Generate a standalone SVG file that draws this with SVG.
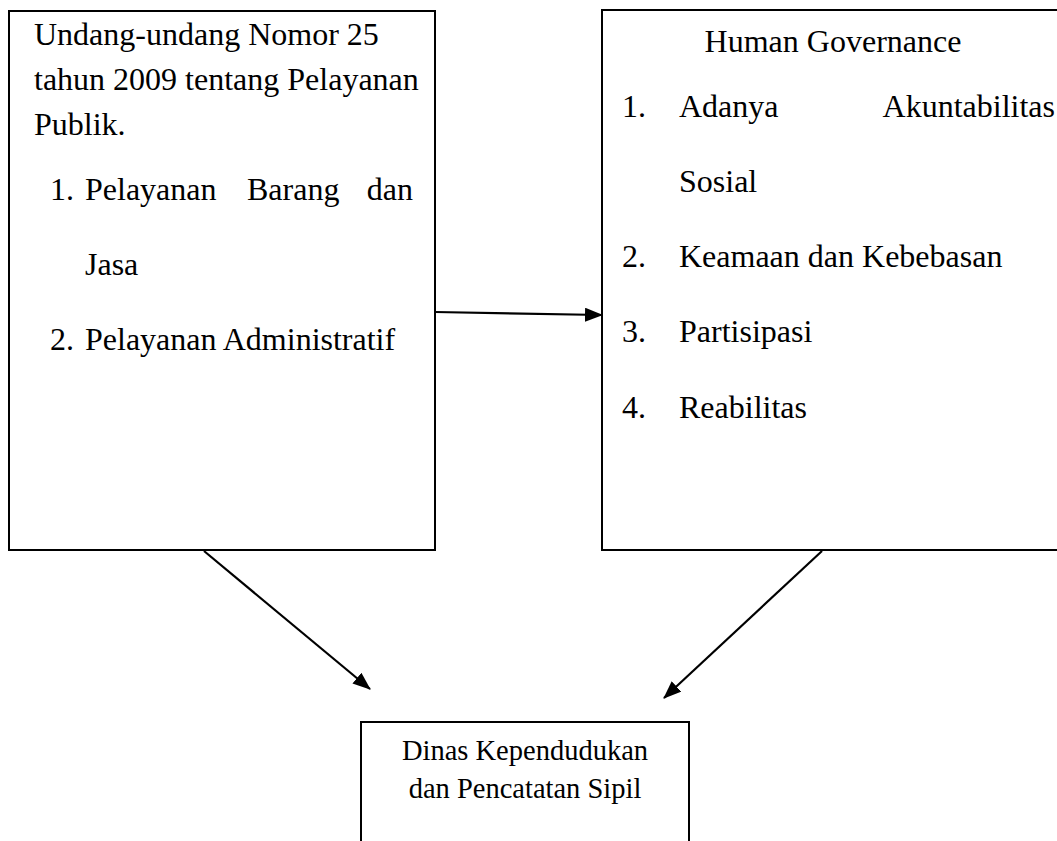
<svg xmlns="http://www.w3.org/2000/svg" width="1057" height="841" viewBox="0 0 1057 841">
<defs>
<style>
.box{fill:#fff;stroke:#000;stroke-width:2}
.t{font-family:"Liberation Serif","Times New Roman",serif;font-size:32px;fill:#000}
.s{font-family:"Liberation Serif","Times New Roman",serif;font-size:28.5px;fill:#000}
.c{stroke:#000;stroke-width:2.2;fill:none;marker-end:url(#ah)}
</style>
<marker id="ah" viewBox="0 0 18 14" refX="17" refY="7" markerWidth="18" markerHeight="14" markerUnits="userSpaceOnUse" orient="auto">
<path d="M0,0 L18,7 L0,14 Z" fill="#000"/>
</marker>
</defs>
<rect width="1057" height="841" fill="#fff"/>
<g id="node-uu">
<rect class="box" x="9" y="11" width="426" height="539"/>
<text class="t" x="34" y="45">Undang-undang Nomor 25</text>
<text class="t" x="34" y="90">tahun 2009 tentang Pelayanan</text>
<text class="t" x="34" y="135">Publik.</text>
<text class="t" x="50" y="200">1.</text>
<text class="t" x="85" y="200">Pelayanan</text>
<text class="t" x="247" y="200">Barang</text>
<text class="t" x="413" y="200" text-anchor="end">dan</text>
<text class="t" x="85" y="275">Jasa</text>
<text class="t" x="50" y="350">2.</text>
<text class="t" x="85" y="350">Pelayanan Administratif</text>
</g>
<g id="node-hg">
<rect class="box" x="602" y="10" width="470" height="540"/>
<text class="t" x="833" y="52" text-anchor="middle">Human Governance</text>
<text class="t" x="622" y="117">1.</text>
<text class="t" x="679" y="117">Adanya</text>
<text class="t" x="1055" y="117" text-anchor="end">Akuntabilitas</text>
<text class="t" x="679" y="192">Sosial</text>
<text class="t" x="622" y="267">2.</text>
<text class="t" x="679" y="267">Keamaan dan Kebebasan</text>
<text class="t" x="622" y="342">3.</text>
<text class="t" x="679" y="342">Partisipasi</text>
<text class="t" x="622" y="418">4.</text>
<text class="t" x="679" y="418">Reabilitas</text>
</g>
<g id="node-dinas">
<rect class="box" x="361" y="722" width="328" height="140"/>
<text class="s" x="525" y="760" text-anchor="middle">Dinas Kependudukan</text>
<text class="s" x="525" y="798" text-anchor="middle">dan Pencatatan Sipil</text>
</g>
<g id="connectors">
<line class="c" x1="435" y1="312" x2="602" y2="315"/>
<line class="c" x1="204" y1="551" x2="370" y2="689"/>
<line class="c" x1="822" y1="551" x2="664" y2="698"/>
</g>
</svg>
